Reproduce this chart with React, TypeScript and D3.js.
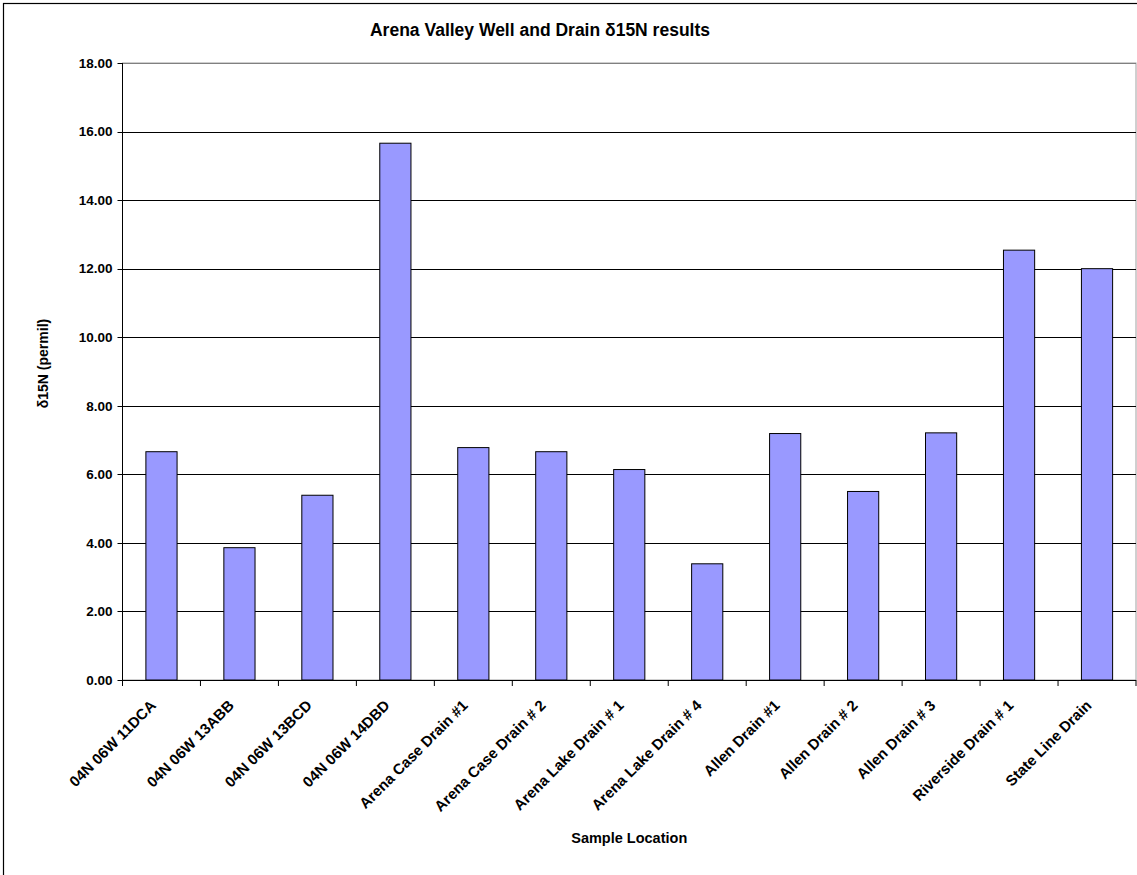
import React from "react";
import * as d3 from "d3";

const categories: string[] = [
  "04N 06W 11DCA",
  "04N 06W 13ABB",
  "04N 06W 13BCD",
  "04N 06W 14DBD",
  "Arena Case Drain #1",
  "Arena Case Drain # 2",
  "Arena Lake Drain # 1",
  "Arena Lake Drain # 4",
  "Allen Drain #1",
  "Allen Drain # 2",
  "Allen Drain # 3",
  "Riverside Drain # 1",
  "State Line Drain",
];
const values: number[] = [6.66, 3.86, 5.39, 15.66, 6.78, 6.66, 6.14, 3.39, 7.19, 5.5, 7.21, 12.54, 12.0];
const yTicks: number[] = [0, 2, 4, 6, 8, 10, 12, 14, 16, 18];

const W = 1137;
const H = 875;
const FONT = "'Liberation Sans', Arial, sans-serif";

export default function App() {
  const left = 122.5;
  const right = 1136;
  const top = 63;
  const bottom = 680;

  const x = d3.scaleBand<string>().domain(categories).range([left, right]).paddingInner(0.6).paddingOuter(0.3);
  const xOuter = d3.scaleBand<string>().domain(categories).range([left, right]);
  const y = d3.scaleLinear().domain([0, 18]).range([bottom, top]);

  return (
    <svg width={W} height={H} style={{ position: "absolute", left: 0, top: 0, background: "#fff" }} fontFamily={FONT}>
      <rect x={0} y={0} width={W} height={H} fill="#fff" />
      <rect x={3.5} y={3.5} width={W + 10} height={H + 10} fill="none" stroke="#000" strokeWidth={1.2} />
      <text x={540} y={36} textAnchor="middle" fontWeight="bold" fontSize={17.5}>
        Arena Valley Well and Drain δ15N results
      </text>

      {/* plot area border */}
      <rect x={left} y={top} width={right - left} height={bottom - top} fill="none" stroke="#a0a0a0" strokeWidth={1} />

      {/* gridlines */}
      {yTicks.map((t) => (
        <line key={"g" + t} x1={left} x2={right} y1={Math.round(y(t)) + 0.5} y2={Math.round(y(t)) + 0.5} stroke={t === 18 ? "#808080" : "#000"} strokeWidth={1} />
      ))}

      {/* bars */}
      {categories.map((c, i) => (
        <rect
          key={c}
          x={x(c)!}
          y={y(values[i])}
          width={x.bandwidth()}
          height={y(0) - y(values[i])}
          fill="#9999FF"
          stroke="#000"
          strokeWidth={1}
        />
      ))}

      {/* y axis */}
      <line x1={left} x2={left} y1={top} y2={bottom} stroke="#000" strokeWidth={1} />
      {yTicks.map((t) => (
        <g key={"yt" + t}>
          <line x1={left - 5} x2={left} y1={Math.round(y(t)) + 0.5} y2={Math.round(y(t)) + 0.5} stroke="#000" />
          <text x={left - 10} y={y(t)} dy="0.35em" textAnchor="end" fontWeight="bold" fontSize={13.5}>
            {d3.format(".2f")(t)}
          </text>
        </g>
      ))}

      {/* x axis */}
      <line x1={left} x2={right} y1={bottom + 0.5} y2={bottom + 0.5} stroke="#000" strokeWidth={1.2} />
      {categories.map((c) => (
        <line key={"xt" + c} x1={xOuter(c)!} x2={xOuter(c)!} y1={bottom} y2={bottom + 6} stroke="#000" />
      ))}
      <line x1={right} x2={right} y1={bottom} y2={bottom + 6} stroke="#000" />
      {categories.map((c) => {
        const cx = xOuter(c)! + xOuter.bandwidth() / 2;
        return (
          <text
            key={"xl" + c}
            transform={`translate(${cx - 12},${bottom + 19}) rotate(-45)`}
            textAnchor="end"
            dy="0.7em"
            fontWeight="bold"
            fontSize={15}
          >
            {c}
          </text>
        );
      })}

      <text x={(left + right) / 2} y={843} textAnchor="middle" fontWeight="bold" fontSize={14.5}>
        Sample Location
      </text>
      <text transform={`translate(48,${(top + bottom) / 2 - 8}) rotate(-90)`} textAnchor="middle" fontWeight="bold" fontSize={14}>
        δ15N (permil)
      </text>
    </svg>
  );
}
